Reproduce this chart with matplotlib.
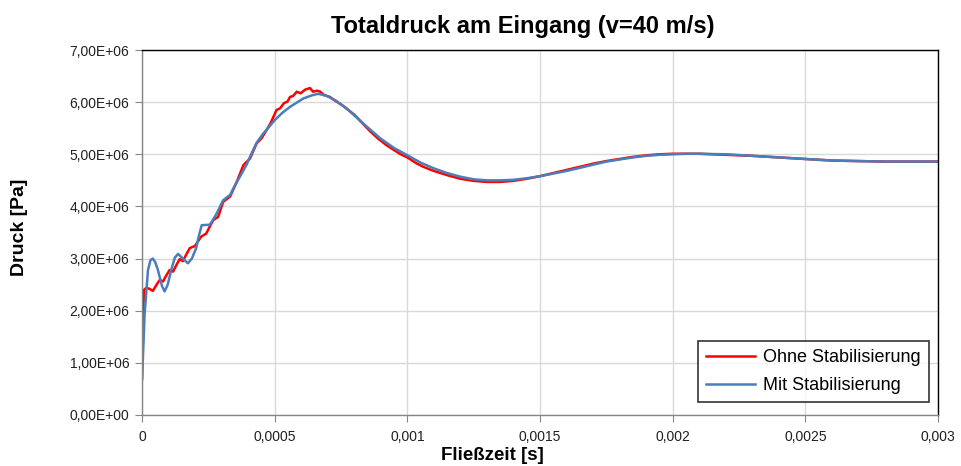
import matplotlib.pyplot as plt
from matplotlib.ticker import FuncFormatter

plt.rcParams['font.family'] = ['Liberation Sans', 'DejaVu Sans']

# Ohne Stabilisierung
t_ohne = [0, 0.000004, 0.000008, 0.000016, 0.000028, 0.000041, 0.000055, 0.000067,
          0.000079, 0.000092, 0.000104, 0.000117, 0.00013, 0.000142, 0.000154,
          0.000167, 0.00018, 0.000199, 0.000223, 0.000242, 0.000256, 0.000269,
          0.000287, 0.000306, 0.000332, 0.000357, 0.000382, 0.000407, 0.000432,
          0.000451, 0.00047, 0.000485, 0.000507, 0.00052, 0.000535, 0.000548,
          0.000558, 0.00057, 0.000583, 0.000598, 0.000615, 0.000633, 0.000645,
          0.00066, 0.000672, 0.000685, 0.000708, 0.00073, 0.000755, 0.00078,
          0.0008, 0.00083, 0.00086, 0.00089, 0.00092, 0.00095, 0.000975, 0.001,
          0.00103, 0.00106, 0.0011, 0.00115, 0.0012, 0.00125, 0.0013, 0.00135,
          0.0014, 0.00145, 0.0015, 0.00155, 0.0016, 0.00165, 0.0017, 0.00175,
          0.0018, 0.00185, 0.0019, 0.00195, 0.002, 0.00205, 0.0021, 0.0022,
          0.0023, 0.0024, 0.0025, 0.0026, 0.0027, 0.0028, 0.0029, 0.003]
p_ohne = [0.7, 1.9, 2.4, 2.44, 2.42, 2.38, 2.5, 2.59, 2.56, 2.68, 2.78, 2.75, 2.88,
          2.99, 2.95, 3.08, 3.2, 3.24, 3.42, 3.48, 3.62, 3.74, 3.8, 4.09, 4.19,
          4.47, 4.79, 4.92, 5.21, 5.31, 5.47, 5.6, 5.85, 5.88, 5.98, 6.01, 6.1,
          6.12, 6.2, 6.17, 6.24, 6.27, 6.2, 6.22, 6.2, 6.14, 6.1, 6.02, 5.94,
          5.84, 5.76, 5.6, 5.44, 5.3, 5.18, 5.08, 5.0, 4.94, 4.84, 4.76, 4.68,
          4.6, 4.53, 4.49, 4.47, 4.47, 4.49, 4.53, 4.58, 4.64, 4.7, 4.76, 4.82,
          4.87, 4.91, 4.95, 4.98, 5.0, 5.01, 5.01, 5.01, 4.99, 4.97, 4.94, 4.91,
          4.88, 4.87, 4.86, 4.86, 4.86]

# Mit Stabilisierung
t_mit = [0, 0.000005, 0.00001, 0.0000226, 0.000032, 0.000041, 0.00005, 0.00006,
         0.000075, 0.000085, 0.000097, 0.00011, 0.000124, 0.000136, 0.000154,
         0.000173, 0.000188, 0.000204, 0.000215, 0.000225, 0.000256, 0.00028,
         0.000306, 0.000332, 0.00035, 0.000369, 0.000394, 0.000407, 0.000432,
         0.000457, 0.00047, 0.000501, 0.00053, 0.000558, 0.000608, 0.00064,
         0.000664, 0.000696, 0.00073, 0.000771, 0.000834, 0.000897, 0.00095,
         0.000997, 0.00105, 0.0011, 0.00115, 0.0012, 0.00125, 0.0013, 0.00135,
         0.0014, 0.00145, 0.0015, 0.00155, 0.0016, 0.00165, 0.0017, 0.00175,
         0.0018, 0.00185, 0.0019, 0.00195, 0.002, 0.00205, 0.0021, 0.0022,
         0.0023, 0.0024, 0.0025, 0.0026, 0.0027, 0.0028, 0.0029, 0.003]
p_mit = [0.67, 1.3, 1.95, 2.78, 2.97, 3.0, 2.93, 2.78, 2.48, 2.37, 2.5, 2.78, 3.02,
         3.09, 3.0, 2.91, 3.0, 3.2, 3.45, 3.64, 3.65, 3.85, 4.12, 4.22, 4.4, 4.57,
         4.8, 4.95, 5.22, 5.4, 5.47, 5.66, 5.8, 5.91, 6.07, 6.13, 6.16, 6.12,
         6.03, 5.88, 5.59, 5.31, 5.12, 4.99, 4.84, 4.73, 4.64, 4.57, 4.52, 4.5,
         4.5, 4.51, 4.54, 4.58, 4.63, 4.68, 4.74, 4.8, 4.86, 4.9, 4.94, 4.97,
         4.99, 5.0, 5.01, 5.01, 5.0, 4.97, 4.94, 4.91, 4.88, 4.87, 4.86, 4.86, 4.86]

x_ticks = [0, 0.0005, 0.001, 0.0015, 0.002, 0.0025, 0.003]
x_labels = ['0', '0,0005', '0,001', '0,0015', '0,002', '0,0025', '0,003']
y_ticks = [0, 1e6, 2e6, 3e6, 4e6, 5e6, 6e6, 7e6]

fig = plt.figure(figsize=(9.62, 4.66), dpi=100)
ax = fig.add_axes([142 / 962, 1 - 415 / 466, 796 / 962, 365 / 466])

ax.plot(t_ohne, [p * 1e6 for p in p_ohne], color='#ff0000', lw=1.8,
        solid_joinstyle='round', label='Ohne Stabilisierung')
ax.plot(t_mit, [p * 1e6 for p in p_mit], color='#4a7ebb', lw=1.8,
        solid_joinstyle='round', label='Mit Stabilisierung')

ax.set_xlim(0, 0.003)
ax.set_ylim(0, 7e6)
ax.set_xticks(x_ticks)
ax.set_xticklabels(x_labels)
ax.set_yticks(y_ticks)
ax.yaxis.set_major_formatter(FuncFormatter(
    lambda v, pos: ('%.2E' % v).replace('.', ',')))

ax.grid(True, color='#d9d9d9', lw=1)
ax.set_axisbelow(True)
for s in ax.spines.values():
    s.set_color('black')
    s.set_linewidth(1)
ax.spines['left'].set_color('#868686')
ax.spines['bottom'].set_color('#868686')
ax.tick_params(direction='out', length=5, color='#868686', labelsize=10,
               labelcolor='#202020')
ax.tick_params(axis='y', pad=4)
ax.tick_params(axis='x', pad=6)

fig.text(523 / 962, 1 - 27 / 466, 'Totaldruck am Eingang (v=40 m/s)',
         ha='center', va='center', fontsize=17, fontweight='bold')
fig.text(492 / 962, 1 - 456 / 466, 'Fließzeit [s]', ha='center', va='center',
         fontsize=13.5, fontweight='bold')
fig.text(20 / 962, 1 - 227 / 466, 'Druck [Pa]', ha='center', va='center',
         rotation=90, fontsize=14, fontweight='bold')

leg = ax.legend(loc='lower right', bbox_to_anchor=(0.9887, 0.0356),
                borderaxespad=0, fancybox=False, edgecolor='black',
                fontsize=13, handlelength=2.7, handletextpad=0.45,
                labelspacing=0.6, borderpad=0.45)
leg.get_frame().set_linewidth(1.2)

fig.savefig('out.png', dpi=100)
